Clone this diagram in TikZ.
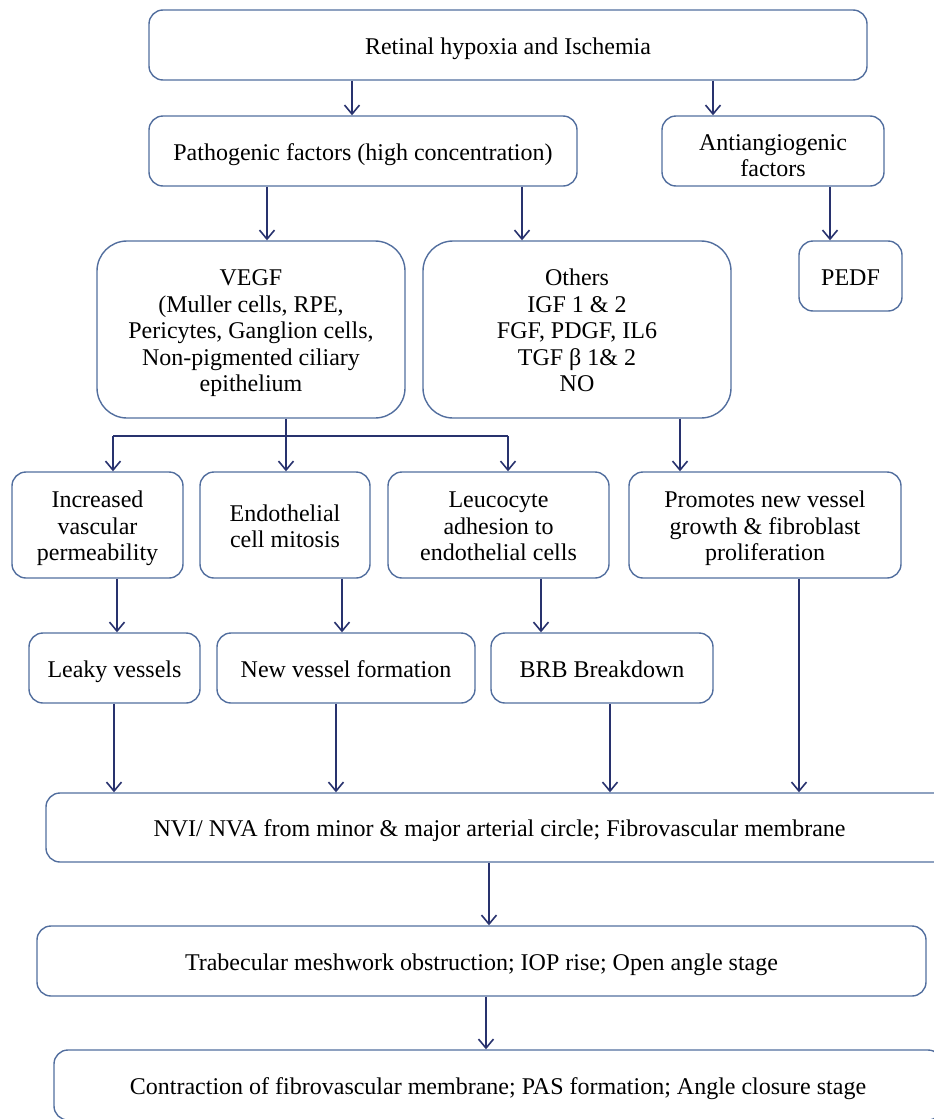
\documentclass[tikz,border=0pt]{standalone}
\usepackage{fontspec}
\setmainfont{Liberation Serif}
\usetikzlibrary{arrows.meta}
\definecolor{boxline}{RGB}{82,110,158}
\definecolor{arrline}{RGB}{40,50,110}
\newcommand{\tx}[2][-4pt]{\raisebox{#1}[\height][\depth]{\begin{tabular}{@{}c@{}}#2\end{tabular}}}
\tikzset{
  fbox/.style={draw=boxline, line width=1.4pt, rounded corners=14pt,
    font=\fontsize{24}{26.5}\selectfont, inner sep=0pt, text=black},
  bigbox/.style={fbox, rounded corners=30pt},
  arr/.style={draw=arrline, line width=1.8pt,
    -{Straight Barb[length=9pt,width=15pt,line width=1.6pt]}},
  ln/.style={draw=arrline, line width=1.8pt}
}
\begin{document}
\begin{tikzpicture}[x=1pt,y=-1pt]
\useasboundingbox (0,0) rectangle (934,1119);
\begin{scope}
\clip (0,0) rectangle (934,1119);
\node[fbox, minimum width=718pt, minimum height=70pt] (top) at (508,45) {\tx{Retinal hypoxia and Ischemia}};
\node[fbox, minimum width=428pt, minimum height=70pt] (path) at (363,151) {\tx{Pathogenic factors (high concentration)}};
\node[fbox, minimum width=222pt, minimum height=70pt] (anti) at (773,151) {\tx[-7pt]{Antiangiogenic\\factors}};
\node[fbox, minimum width=103pt, minimum height=70pt] (pedf) at (850.5,276) {\tx{PEDF}};
\node[bigbox, minimum width=308pt, minimum height=177pt] (vegf) at (251,329.5) {\tx[-4pt]{VEGF\\(Muller cells, RPE,\\Pericytes, Ganglion cells,\\Non-pigmented ciliary\\epithelium}};
\node[bigbox, minimum width=308pt, minimum height=177pt] (oth) at (577,329.5) {\tx[-4pt]{Others\\IGF 1 \& 2\\FGF, PDGF, IL6\\TGF β 1\& 2\\NO}};
\node[fbox, minimum width=171pt, minimum height=106pt] (incr) at (97.5,525) {\tx{Increased\\vascular\\permeability}};
\node[fbox, minimum width=170pt, minimum height=106pt] (endo) at (285,525) {\tx{Endothelial\\cell mitosis}};
\node[fbox, minimum width=221pt, minimum height=106pt] (leuc) at (498.5,525) {\tx{Leucocyte\\adhesion to\\endothelial cells}};
\node[fbox, minimum width=272pt, minimum height=106pt] (prom) at (765,525) {\tx{Promotes new vessel\\growth \& fibroblast\\proliferation}};
\node[fbox, minimum width=171pt, minimum height=70pt] (leaky) at (114.5,668) {\tx{Leaky vessels}};
\node[fbox, minimum width=258pt, minimum height=70pt] (newv) at (346,668) {\tx{New vessel formation}};
\node[fbox, minimum width=222pt, minimum height=70pt] (brb) at (602,668) {\tx{BRB Breakdown}};
\node[fbox, minimum width=907pt, minimum height=69pt] (nvi) at (499.5,827.5) {\tx{NVI/ NVA from minor \& major arterial circle; Fibrovascular membrane}};
\node[fbox, minimum width=889pt, minimum height=70pt] (trab) at (481.5,961) {\tx{Trabecular meshwork obstruction; IOP rise; Open angle stage}};
\node[fbox, minimum width=888pt, minimum height=70pt] (contr) at (498,1085) {\tx{Contraction of fibrovascular membrane; PAS formation; Angle closure stage}};
\end{scope}
\draw[arr] (352,0 |- top.south) -- (352,0 |- path.north);
\draw[arr] (713,0 |- top.south) -- (713,0 |- anti.north);
\draw[arr] (267,0 |- path.south) -- (267,0 |- vegf.north);
\draw[arr] (522,0 |- path.south) -- (522,0 |- oth.north);
\draw[arr] (830,0 |- anti.south) -- (830,0 |- pedf.north);
\coordinate (br) at (286,436);
\draw[ln] (286,0 |- vegf.south) -- (br);
\draw[ln] (113,436) -- (508,436);
\draw[arr] (113,436) -- (113,0 |- incr.north);
\draw[arr] (br) -- (286,0 |- endo.north);
\draw[arr] (508,436) -- (508,0 |- leuc.north);
\draw[arr] (680,0 |- oth.south) -- (680,0 |- prom.north);
\draw[arr] (117,0 |- incr.south) -- (117,0 |- leaky.north);
\draw[arr] (342,0 |- endo.south) -- (342,0 |- newv.north);
\draw[arr] (541,0 |- leuc.south) -- (541,0 |- brb.north);
\draw[arr] (114,0 |- leaky.south) -- (114,0 |- nvi.north);
\draw[arr] (336,0 |- newv.south) -- (336,0 |- nvi.north);
\draw[arr] (610,0 |- brb.south) -- (610,0 |- nvi.north);
\draw[arr] (799,0 |- prom.south) -- (799,0 |- nvi.north);
\draw[arr] (489,0 |- nvi.south) -- (489,0 |- trab.north);
\draw[arr] (486,0 |- trab.south) -- (486,0 |- contr.north);
\end{tikzpicture}
\end{document}
